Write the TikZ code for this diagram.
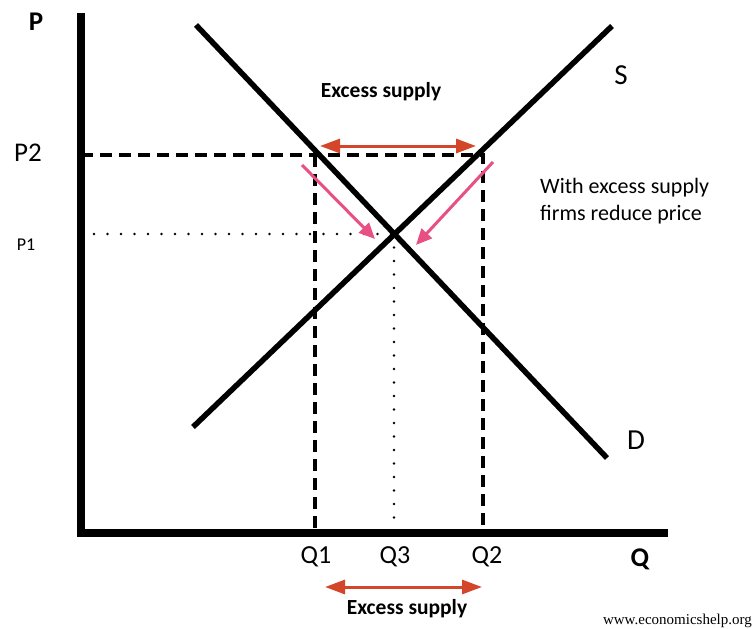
\documentclass[tikz,border=0pt]{standalone}
\usepackage{fontspec}
\setmainfont{Carlito}
\newfontfamily\wmfont{Liberation Serif}
\usetikzlibrary{arrows.meta}
\definecolor{exred}{HTML}{D4462A}
\definecolor{expink}{HTML}{E84F82}
\begin{document}
\begin{tikzpicture}[x=1pt,y=-1pt,
  axis/.style={line width=8pt},
  curve/.style={line width=5.5pt},
  dashln/.style={line width=3.5pt,dash pattern=on 12pt off 7pt},
  dotln/.style={line width=2.6pt,line cap=round,dash pattern=on 0pt off 13.5pt},
  redarrow/.style={exred,line width=3pt,{Triangle[length=20pt,width=14pt]}-{Triangle[length=20pt,width=14pt]}},
  pinkarrow/.style={expink,line width=3pt,-{Triangle[length=16pt,width=14pt]}},
  lbl/.style={inner sep=0pt,anchor=center}]
\useasboundingbox (0,0) rectangle (753,629);
% coordinates
\coordinate (O) at (81,533);
\coordinate (Ytop) at (81,13);
\coordinate (Xend) at (668,533);
\coordinate (S0) at (193,427);
\coordinate (S1) at (612,26);
\coordinate (D0) at (196,25);
\coordinate (D1) at (607,458);
\coordinate (P2a) at (81,155);
\coordinate (P2b) at (483,155);
\coordinate (Q1t) at (315,155);
\coordinate (Q1b) at (315,533);
\coordinate (Q2b) at (483,533);
\coordinate (P1a) at (94,234);
\coordinate (E) at (394,234);
\coordinate (Q3b) at (394,533);
\coordinate (R1) at (320,146);
\coordinate (R2) at (476,146);
\coordinate (B1) at (325,587);
\coordinate (B2) at (482,587);
\coordinate (L0) at (302,165);
\coordinate (L1) at (375,239);
\coordinate (M0) at (493,162);
\coordinate (M1) at (416,245);
% guide lines
\draw[dashln] (P2a) -- (P2b) -- (Q2b);
\draw[dashln] (Q1t) -- (Q1b);
\draw[dotln] (P1a) -- (E);
\draw[dotln] (E) -- (Q3b);
% curves
\draw[curve] (S0) -- (S1);
\draw[curve] (D0) -- (D1);
% axes
\draw[axis] (Ytop) -- (O) -- (Xend);
% arrows
\draw[redarrow] (R1) -- (R2);
\draw[redarrow] (B1) -- (B2);
\draw[pinkarrow] (L0) -- (L1);
\draw[pinkarrow] (M0) -- (M1);
% labels
\node[lbl,font=\fontsize{27}{27}\selectfont\bfseries] (lP) at (36,22) {P};
\node[lbl,font=\fontsize{27}{27}\selectfont\bfseries] (lQ) at (640,559) {Q};
\node[lbl,font=\fontsize{27}{27}\selectfont] (lP2) at (28,153) {P2};
\node[lbl,font=\fontsize{18}{18}\selectfont] (lP1) at (26,245) {P1};
\node[lbl,font=\fontsize{29}{29}\selectfont] (lS) at (621,75) {S};
\node[lbl,font=\fontsize{29}{29}\selectfont] (lD) at (636,440) {D};
\node[lbl,font=\fontsize{26}{26}\selectfont] (lQ1) at (316,557) {Q1};
\node[lbl,font=\fontsize{26}{26}\selectfont] (lQ3) at (395,557) {Q3};
\node[lbl,font=\fontsize{26}{26}\selectfont] (lQ2) at (487,557) {Q2};
\node[lbl,font=\fontsize{21.5}{21.5}\selectfont\bfseries] (ex1) at (381,92) {Excess supply};
\node[lbl,font=\fontsize{21.5}{21.5}\selectfont\bfseries] (ex2) at (407,609) {Excess supply};
\node[inner sep=0pt,anchor=north west,align=left,font=\fontsize{22}{27}\selectfont] (note) at (540,178) {With excess supply\\firms reduce price};
\node[inner sep=0pt,anchor=east,font=\wmfont\fontsize{15}{15}\selectfont] (wm) at (752,621) {www.economicshelp.org};
\end{tikzpicture}
\end{document}
